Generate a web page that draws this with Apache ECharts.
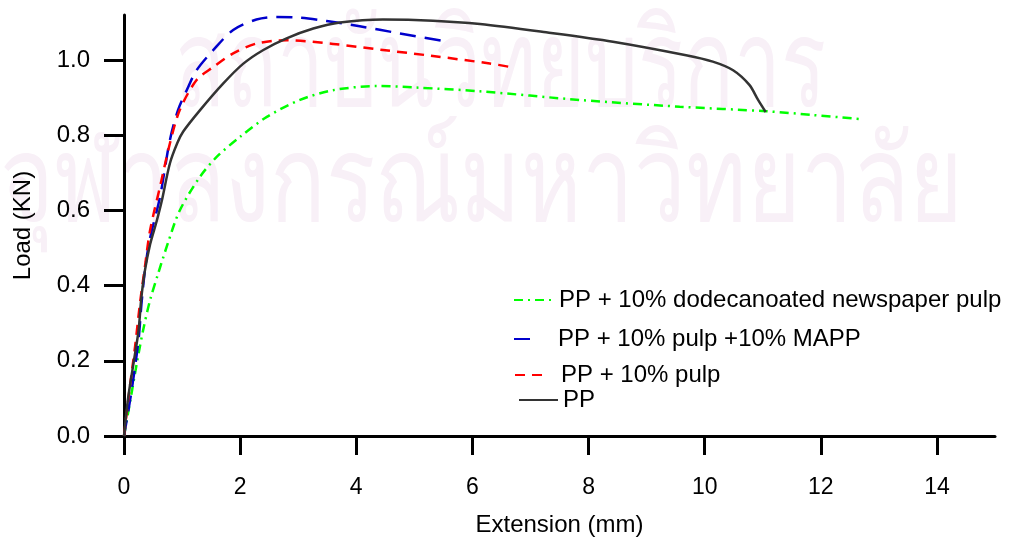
<!DOCTYPE html>
<html>
<head>
<meta charset="utf-8">
<script src="https://cdn.jsdelivr.net/npm/echarts@6/dist/echarts.min.js"></script>
<style>
  html, body { margin: 0; padding: 0; background: #fff; }
  #main { width: 1033px; height: 538px; }
</style>
</head>
<body>
<div id="main"></div>
<script>
// axis ticks
var xTicks = [0, 2, 4, 6, 8, 10, 12, 14];
var yTicks = [0, 0.2, 0.4, 0.6, 0.8, 1.0];

// PP
var ppExt  = [0, 0.07, 0.16, 0.25, 0.30, 0.36, 0.45, 0.56, 0.65, 0.79, 0.92, 1.02, 1.31, 1.71, 2.05, 2.40, 2.80, 3.26, 3.72, 4.46, 5.32, 6.13, 7.27, 8.42, 9.68, 10.14, 10.49, 10.77, 10.92, 11.05];
var ppLoad = [0, 0.10, 0.19, 0.28, 0.37, 0.44, 0.51, 0.57, 0.625, 0.725, 0.78, 0.81, 0.867, 0.938, 0.99, 1.027, 1.058, 1.084, 1.10, 1.108, 1.105, 1.096, 1.074, 1.049, 1.013, 0.996, 0.973, 0.934, 0.894, 0.862];

// PP + 10% pulp +10% MAPP
var mappExt  = [0, 0.13, 0.25, 0.30, 0.36, 0.44, 0.62, 0.79, 0.93, 1.08, 1.25, 1.54, 1.88, 2.28, 2.63, 3.03, 3.49, 4.06, 4.75, 5.50];
var mappLoad = [0, 0.12, 0.255, 0.35, 0.44, 0.52, 0.636, 0.787, 0.867, 0.92, 0.973, 1.027, 1.08, 1.108, 1.115, 1.113, 1.104, 1.09, 1.071, 1.051];

// PP + 10% pulp
var pulpExt  = [0, 0.10, 0.19, 0.275, 0.36, 0.45, 0.62, 0.79, 0.96, 1.25, 1.54, 1.88, 2.28, 2.80, 3.60, 4.46, 5.32, 6.30, 6.64];
var pulpLoad = [0, 0.13, 0.237, 0.353, 0.45, 0.548, 0.663, 0.778, 0.867, 0.947, 0.982, 1.018, 1.044, 1.053, 1.043, 1.027, 1.011, 0.991, 0.982];

// PP + 10% dodecanoated newspaper pulp
var dodExt  = [0, 0.10, 0.22, 0.33, 0.45, 0.59, 0.76, 0.96, 1.31, 1.60, 2.0, 2.46, 3.03, 3.60, 4.35, 5.04, 6.13, 7.85, 9.57, 11.06, 11.86, 12.70];
var dodLoad = [0, 0.087, 0.193, 0.282, 0.362, 0.433, 0.515, 0.60, 0.69, 0.743, 0.796, 0.849, 0.894, 0.92, 0.931, 0.927, 0.917, 0.894, 0.876, 0.864, 0.854, 0.843];

var names = ['PP + 10% dodecanoated newspaper pulp', 'PP + 10% pulp +10% MAPP', 'PP + 10% pulp', 'PP'];

function pairs(xs, ys) {
    var out = [];
    for (var i = 0; i < xs.length; i++) out.push([xs[i], ys[i]]);
    return out;
}

var font = 'Liberation Sans, Arial, sans-serif';
var chart = echarts.init(document.getElementById('main'));

function legendItem(name, left, top, w, pad) {
    return {
        data: [name],
        left: left,
        top: top,
        orient: 'vertical',
        itemWidth: w,
        itemHeight: 14,
        padding: 0,
        selectedMode: false,
        itemStyle: { color: 'transparent', borderWidth: 0 },
        textStyle: { fontFamily: font, fontSize: 24, color: '#000', padding: [0, 0, 0, pad] }
    };
}

// watermark
function mark(text, x, y, size, sy) {
    return {
        type: 'text', x: x, y: y, scaleY: sy, z: -10, silent: true,
        style: { text: text, fontSize: size, fill: '#f8f0f7', fontFamily: 'sans-serif', verticalAlign: 'middle' }
    };
}

var option = {
    backgroundColor: '#fff',
    animation: false,
    graphic: [
        mark('สถาบันวิทยบริการ', 175, 72, 84, 1.45),
        mark('จุฬาลงกรณ์มหาวิทยาลัย', 0, 188, 92, 1.3)
    ],
    grid: { left: 124, right: 38, top: 15, bottom: 102, outerBoundsMode: 'none' },
    legend: [
        legendItem(names[0], 513, 288, 37, 3),
        legendItem(names[1], 513, 327, 24, 15),
        legendItem(names[2], 514, 363, 31, 10),
        legendItem(names[3], 518, 388, 39, 0)
    ],
    xAxis: {
        type: 'value',
        min: 0,
        max: 15,
        offset: 4,
        name: 'Extension (mm)',
        nameLocation: 'middle',
        nameGap: 73,
        nameTextStyle: { fontFamily: font, fontSize: 24, color: '#000' },
        splitLine: { show: false },
        axisLine: { show: true, lineStyle: { color: '#000', width: 3 } },
        axisTick: { show: true, length: 19, lineStyle: { color: '#000', width: 3 }, customValues: xTicks },
        axisLabel: { fontFamily: font, fontSize: 23, color: '#000', margin: 36, customValues: xTicks }
    },
    yAxis: {
        type: 'value',
        min: 0,
        max: 1.12,
        offset: 4,
        name: 'Load (KN)',
        nameLocation: 'middle',
        nameGap: 85,
        nameTextStyle: { fontFamily: font, fontSize: 24, color: '#000' },
        splitLine: { show: false },
        axisLine: { show: true, lineStyle: { color: '#000', width: 3 } },
        axisTick: { show: true, length: 20, lineStyle: { color: '#000', width: 3 }, customValues: yTicks },
        axisLabel: {
            fontFamily: font, fontSize: 24, color: '#000', margin: 30, customValues: yTicks,
            formatter: function (v) { return v.toFixed(1); }
        }
    },
    series: [
        {
            name: names[0], type: 'line', showSymbol: false, symbol: 'none', smooth: 0.3,
            lineStyle: { color: '#00ff00', width: 2.5, type: [9, 5, 2, 5] },
            itemStyle: { color: '#00ff00' },
            data: pairs(dodExt, dodLoad), z: 2
        },
        {
            name: names[1], type: 'line', showSymbol: false, symbol: 'none', smooth: 0.3,
            lineStyle: { color: '#0000cc', width: 2.5, type: [16, 9] },
            itemStyle: { color: '#0000cc' },
            data: pairs(mappExt, mappLoad), z: 3
        },
        {
            name: names[2], type: 'line', showSymbol: false, symbol: 'none', smooth: 0.3,
            lineStyle: { color: '#ff0000', width: 2.5, type: [10, 7] },
            itemStyle: { color: '#ff0000' },
            data: pairs(pulpExt, pulpLoad), z: 3
        },
        {
            name: names[3], type: 'line', showSymbol: false, symbol: 'none', smooth: 0.3,
            lineStyle: { color: '#333333', width: 2.5, type: 'solid' },
            itemStyle: { color: '#333333' },
            data: pairs(ppExt, ppLoad), z: 4
        }
    ]
};

chart.setOption(option);
window.onresize = chart.resize;
</script>
</body>
</html>
